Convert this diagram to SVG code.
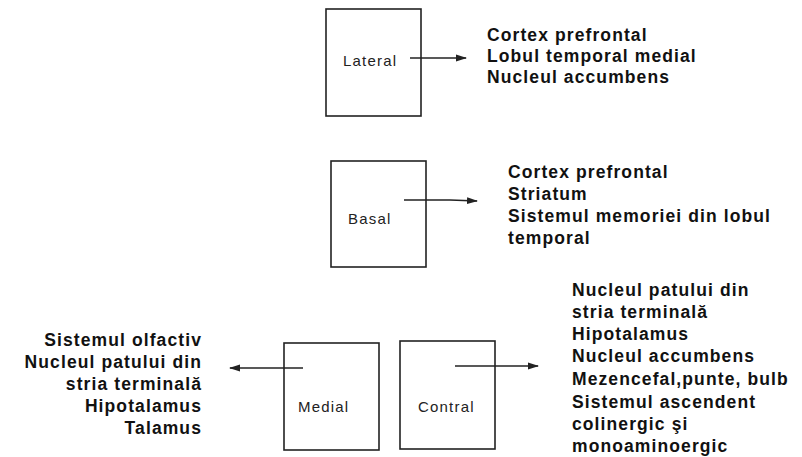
<svg xmlns="http://www.w3.org/2000/svg" width="802" height="457" viewBox="0 0 802 457">
<style>
.box{fill:#fff;stroke:#222;stroke-width:1.6}
.lbl{font-family:"Liberation Sans",Arial,sans-serif;font-size:15px;fill:#222;letter-spacing:1.2px}
.t{font-family:"Liberation Sans",Arial,sans-serif;font-size:17.5px;font-weight:bold;fill:#111;letter-spacing:1.1px}
.r{text-anchor:end}
.c{stroke:#222;stroke-width:1.6;fill:none}
</style>
<defs>
<marker id="ah" markerWidth="11" markerHeight="8" refX="10" refY="4" orient="auto" markerUnits="userSpaceOnUse">
<path d="M0,0.5 L11,4 L0,7.5 Z" fill="#222"/>
</marker>
</defs>
<rect width="802" height="457" fill="#fff"/>
<g id="lateral">
<rect class="box" x="326" y="9" width="95" height="107"/>
<text class="lbl" x="343" y="66">Lateral</text>
</g>
<g id="basal">
<rect class="box" x="331" y="161" width="95" height="106"/>
<text class="lbl" x="348" y="224">Basal</text>
</g>
<g id="medial">
<rect class="box" x="284" y="343" width="95" height="107"/>
<text class="lbl" x="298" y="412">Medial</text>
</g>
<g id="contral">
<rect class="box" x="400" y="341" width="95" height="108"/>
<text class="lbl" x="418" y="412">Contral</text>
</g>
<g id="lateral-targets">
<text class="t" x="487" y="41">Cortex prefrontal</text>
<text class="t" x="487" y="62">Lobul temporal medial</text>
<text class="t" x="487" y="83">Nucleul accumbens</text>
</g>
<g id="basal-targets">
<text class="t" x="508" y="178">Cortex prefrontal</text>
<text class="t" x="508" y="200">Striatum</text>
<text class="t" x="508" y="222">Sistemul memoriei din lobul</text>
<text class="t" x="508" y="244">temporal</text>
</g>
<g id="medial-targets">
<text class="t r" x="202" y="346">Sistemul olfactiv</text>
<text class="t r" x="202" y="368">Nucleul patului din</text>
<text class="t r" x="202" y="390">stria terminală</text>
<text class="t r" x="202" y="412">Hipotalamus</text>
<text class="t r" x="202" y="434">Talamus</text>
</g>
<g id="contral-targets">
<text class="t" x="572" y="296">Nucleul patului din</text>
<text class="t" x="572" y="318">stria terminală</text>
<text class="t" x="572" y="340">Hipotalamus</text>
<text class="t" x="572" y="362">Nucleul accumbens</text>
<text class="t" x="572" y="385">Mezencefal,punte, bulb</text>
<text class="t" x="572" y="408">Sistemul ascendent</text>
<text class="t" x="572" y="430">colinergic şi</text>
<text class="t" x="572" y="452">monoaminoergic</text>
</g>
<g id="connectors">
<line class="c" x1="410" y1="58" x2="466" y2="58" marker-end="url(#ah)"/>
<path class="c" d="M404,200 L450,200 L477,201" marker-end="url(#ah)"/>
<line class="c" x1="303" y1="368" x2="230" y2="368" marker-end="url(#ah)"/>
<line class="c" x1="455" y1="366" x2="538" y2="366" marker-end="url(#ah)"/>
</g>
</svg>
